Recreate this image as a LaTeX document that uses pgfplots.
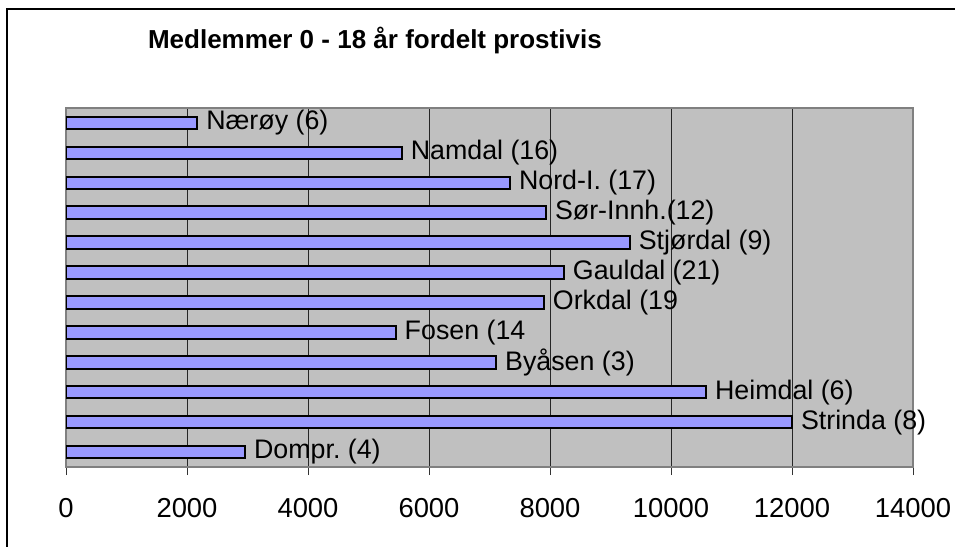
\documentclass[border=0pt]{standalone}
\usepackage{fontspec}
\setmainfont{Liberation Sans}
\usepackage{pgfplots}
\usepackage{pgfplotstable}
\pgfplotsset{compat=1.18}

\definecolor{barblue}{HTML}{9999FF}
\definecolor{plotgray}{HTML}{C0C0C0}
\definecolor{bordergray}{HTML}{808080}

% members 0-18 per deanery
\pgfplotstableread{
y val label
0 2960 {Dompr.\ (4)}
1 12000 {Strinda (8)}
2 10580 {Heimdal (6)}
3 7110 {Byåsen (3)}
4 5450 {Fosen (14}
5 7900 {Orkdal (19}
6 8230 {Gauldal (21)}
7 9320 {Stjørdal (9)}
8 7935 {Sør-Innh.(12)}
9 7340 {Nord-I. (17)}
10 5550 {Namdal (16)}
11 2170 {Nærøy (6)}
}\datatable

\begin{document}
\begin{tikzpicture}[font=\fontsize{13.4}{16}\selectfont]
\useasboundingbox (0,0) rectangle (477.5pt,-273.5pt);
% outer chart frame (cut off right and bottom)
\draw[line width=1pt] (3.5pt,-273.5pt) -- (3.5pt,-4.25pt) -- (477.5pt,-4.25pt);
\node[anchor=base west, font=\fontsize{13}{15.6}\selectfont\bfseries] at (70.5pt,-24pt) {Medlemmer 0 - 18 år fordelt prostivis};

\begin{axis}[
    at={(33pt,-233.5pt)}, anchor=south west,
    scale only axis,
    width=423.5pt, height=179.5pt,
    xbar, bar width=0.42,
    xmin=0, xmax=14000,
    ymin=-0.5, ymax=11.5,
    xtick={0,2000,...,14000},
    ytick=\empty,
    xtick pos=bottom,
    tick align=outside,
    major tick length=4pt,
    tick style={black!80, line width=0.5pt},
    axis background/.style={fill=plotgray},
    axis line style={bordergray, line width=1pt},
    xmajorgrids,
    grid style={black!85, line width=0.5pt},
    scaled x ticks=false,
    x tick label style={/pgf/number format/1000 sep={}, yshift=-8pt, font=\fontsize{13.7}{16}\selectfont},
    /pgf/number format/assume math mode=true,
    point meta=explicit symbolic,
    nodes near coords,
    nodes near coords align={horizontal},
    every node near coord/.append style={black, anchor=west, inner sep=4pt},
]
\addplot[fill=barblue, draw=black, line width=1pt] table[x=val, y=y, meta=label] {\datatable};
\end{axis}
\end{tikzpicture}
\end{document}
